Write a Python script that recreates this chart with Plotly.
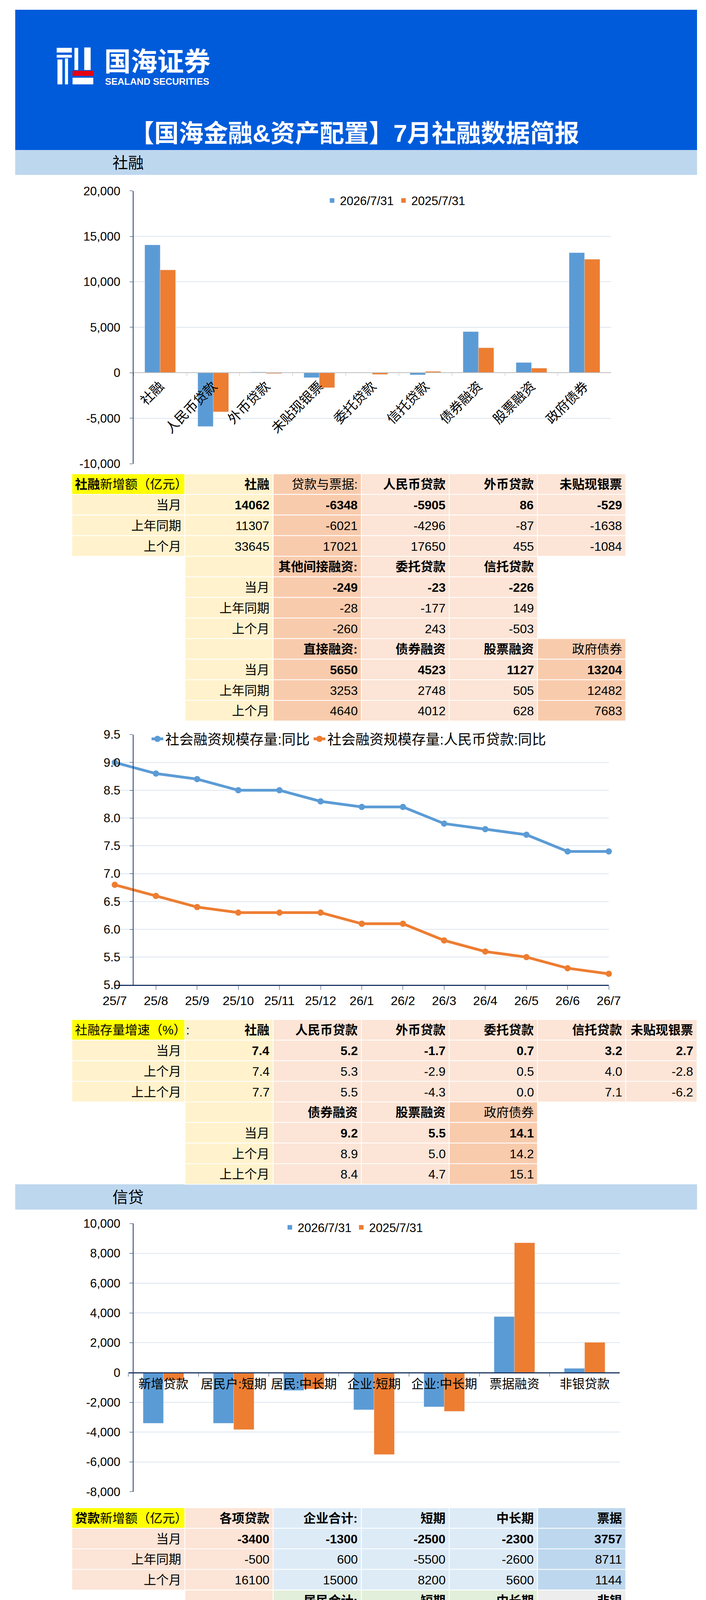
import plotly.graph_objects as go

W, H = 1808, 6968
FONT = "Liberation Sans, Noto Sans CJK SC, sans-serif"

BLUE = '#5B9BD5'
ORANGE = '#ED7D31'
GRAY = '#A5A5A5'
NAVY = '#1F3864'
GRID = '#DCE6F1'

YEL = '#FFFF00'
CREAM = '#FFF2CC'
PEACH = '#FCE4D6'
PEACH2 = '#F8CBAD'
LB = '#DDEBF7'
BL = '#BDD7EE'
GRN = '#E2EFDA'
GRY = '#EDEDED'
WHITE = '#FFFFFF'

# ---------------- data ----------------
sf_cats = ['社融', '人民币贷款', '外币贷款', '未贴现银票', '委托贷款', '信托贷款', '债券融资', '股票融资', '政府债券']
sf_now = [14062, -5905, 86, -529, -23, -226, 4523, 1127, 13204]
sf_last = [11307, -4296, -87, -1638, -177, 149, 2748, 505, 12482]

months = ['25/7', '25/8', '25/9', '25/10', '25/11', '25/12', '26/1', '26/2', '26/3', '26/4', '26/5', '26/6', '26/7']
tsf_yoy = [9.0, 8.8, 8.7, 8.5, 8.5, 8.3, 8.2, 8.2, 7.9, 7.8, 7.7, 7.4, 7.4]
tsf_rmb_yoy = [6.8, 6.6, 6.4, 6.3, 6.3, 6.3, 6.1, 6.1, 5.8, 5.6, 5.5, 5.3, 5.2]

loan_cats = ['新增贷款', '居民户:短期', '居民:中长期', '企业:短期', '企业:中长期', '票据融资', '非银贷款']
loan_now = [-3400, -3400, -1202, -2500, -2300, 3757, 279]
loan_last = [-500, -3827, -1100, -5500, -2600, 8711, 2026]

m1_yoy = [5.6, 6.0, 7.2, 6.2, 4.9, 3.8, 4.9, 5.9, 5.1, 5.0, 5.5, 4.0, 4.0]
m2_yoy = [8.8, 8.8, 8.4, 8.2, 8.0, 8.5, 9.0, 9.0, 8.5, 8.6, 8.6, 8.0, 7.7]

dep_total = [8.7, 8.6, 8.0, 8.0, 7.7, 8.7, 9.9, 8.7, 8.6, 8.9, 8.7, 8.2, 8.1]
dep_house = [10.3, 9.8, 10.2, 9.7, 9.55, 9.7, 7.2, 8.75, 8.2, 7.9, 7.52, 7.07, 7.42]
dep_corp = [4.15, 4.05, 4.2, 3.8, 3.65, 2.8, 6.4, 4.15, 3.9, 4.05, 4.4, 4.5, 4.37]

# table texts
rows3 = ['当月', '上年同期', '上个月']
rows3b = ['当月', '上个月', '上上个月']

t1a_head = ['<b>社融</b>新增额（亿元）', '社融', '贷款与票据:', '人民币贷款', '外币贷款', '未贴现银票']
t1a_vals = [['14062', '-6348', '-5905', '86', '-529'],
            ['11307', '-6021', '-4296', '-87', '-1638'],
            ['33645', '17021', '17650', '455', '-1084']]
t1b_head = ['', '其他间接融资:', '委托贷款', '信托贷款']
t1b_vals = [['-249', '-23', '-226'], ['-28', '-177', '149'], ['-260', '243', '-503']]
t1c_head = ['', '直接融资:', '债券融资', '股票融资', '政府债券']
t1c_vals = [['5650', '4523', '1127', '13204'], ['3253', '2748', '505', '12482'], ['4640', '4012', '628', '7683']]

t2a_head = ['社融存量增速（%）:', '社融', '人民币贷款', '外币贷款', '委托贷款', '信托贷款', '未贴现银票']
t2a_vals = [['7.4', '5.2', '-1.7', '0.7', '3.2', '2.7'],
            ['7.4', '5.3', '-2.9', '0.5', '4.0', '-2.8'],
            ['7.7', '5.5', '-4.3', '0.0', '7.1', '-6.2']]
t2b_head = ['', '债券融资', '股票融资', '政府债券']
t2b_vals = [['9.2', '5.5', '14.1'], ['8.9', '5.0', '14.2'], ['8.4', '4.7', '15.1']]

t3a_head = ['<b>贷款</b>新增额（亿元）', '各项贷款', '企业合计:', '短期', '中长期', '票据']
t3a_vals = [['-3400', '-1300', '-2500', '-2300', '3757'],
            ['-500', '600', '-5500', '-2600', '8711'],
            ['16100', '15000', '8200', '5600', '1144']]
t3b_head = ['', '居民合计:', '短期', '中长期', '非银']
t3b_vals = [['-4603', '-3400', '-1202', '279'], ['-4893', '-3827', '-1100', '2026'], ['2646', '1061', '1584', '-1426']]
t3c_head = ['<b>存量增速(%):</b>', '各项贷款', '企业合计:', '短期', '中长期', '票据']
t3c_vals = [['5.10', '8.19', '11.69', '6.22', '13.04'],
            ['6.90', '8.29', '10.93', '6.19', '17.19'],
            ['5.20', '8.52', '11.93', '6.63', '13.24']]
t3d_head = ['', '居民合计:', '短期', '中长期', '非银']
t3d_vals = [['-1.28', '-6.62', '0.50', '-57.08'], ['-1.30', '-6.70', '0.52', '-51.68'], ['-0.91', '-6.04', '0.81', '-43.91']]

t4a_head = ['<b>M10\\M1\\M2</b>（亿元）', 'M0', 'M1', 'M2']
t4a_vals = [['835', '-30176', '-12008']]
t4b_head = ['<b>存量增速(%):</b>', 'M0', 'M1', 'M2']
t4b_vals = [['11.6', '4.0', '7.7'], ['11.8', '4.0', '8.0'], ['11.9', '5.5', '8.6']]

t5a_head = ['<b>存款</b>新增额（亿元）', '各项存款', '企业', '居民', '财政', '非银']
t5a_vals = [['300', '-16300', '-6300', '9785', '11100'],
            ['5000', '-14591', '-11100', '7700', '21400'],
            ['19900', '19400', '19500', '-9385', '-9900']]
t5b_head = ['<b>存量增速(%):</b>', '各项存款', '企业', '居民', '财政', '非银']
t5b_vals = [['8.1', '4.37', '7.42', '8.19', '23.61'],
            ['8.2', '4.50', '7.07', '6.04', '28.62'],
            ['8.7', '4.40', '7.52', '6.96', '29.65']]


def px(x):
    return x / W


def py(y):
    return 1 - y / H


shapes = []
annots = []


def rect(x0, y0, x1, y1, fill, line=None):
    shapes.append(dict(type='rect', xref='paper', yref='paper', x0=px(x0), x1=px(x1),
                       y0=py(y1), y1=py(y0), fillcolor=fill, layer='below',
                       line=line or dict(width=0)))


def text(x, y, s, size=32, color='black', anchor='left', bold=False):
    annots.append(dict(x=px(x), y=py(y), xref='paper', yref='paper', showarrow=False,
                       text=f'<b>{s}</b>' if bold else s, xanchor=anchor, yanchor='middle',
                       font=dict(size=size, color=color, family=FONT)))


COLS = [150, 450, 684, 918, 1151, 1385, 1619, 1808]
ROW = 53


def cell(ci, y0, s, fill, bold=False, align='right'):
    x0, x1 = COLS[ci], COLS[ci + 1]
    rect(x0, y0, x1, y0 + ROW, fill, dict(color='white', width=2))
    if s:
        if align == 'right':
            text(x1 - 8, y0 + ROW / 2 + 1, s, anchor='right', bold=bold)
        else:
            text(x0 + 6, y0 + ROW / 2 + 1, s, anchor='left', bold=bold)


def block(top, c0, head, head_fill, head_bold, labels, vals, fills, lab_fill, lab_align='right'):
    for j, s in enumerate(head):
        cell(c0 + j, top, s, head_fill[j], head_bold[j], 'left' if head_fill[j] == YEL else 'right')
    for i, lab in enumerate(labels):
        y = top + (i + 1) * ROW
        cell(c0, y, lab, lab_fill, False, lab_align)
        for j, v in enumerate(vals[i]):
            cell(c0 + 1 + j, y, v, fills[j], i == 0)


# ---------------- header ----------------
rect(0, 0, W, 361, '#005BDB')
for (a, b, c, d, col) in [(110, 98, 150, 110, WHITE), (110, 116, 150, 123, WHITE),
                          (112, 128, 125, 192, WHITE), (132, 125, 140, 192, WHITE),
                          (157, 98, 167, 155, WHITE), (183, 97, 200, 155, WHITE),
                          (152, 157, 207, 170, '#E60012'), (152, 175, 207, 192, WHITE)]:
    rect(a, b, c, d, col)
text(234, 134, '国海证券', size=68, color='white', bold=True)
text(236, 184, 'SEALAND SECURITIES', size=24, color='white', bold=True)
text(900, 318, '【国海金融&资产配置】7月社融数据简报', size=63, color='white', anchor='center', bold=True)

# section bands
rect(0, 361, W, 425, BL)
text(256, 394, '社融', size=40)
rect(0, 3022, W, 3087, BL)
text(256, 3055, '信贷', size=40)
rect(0, 4702, W, 4766, BL)
text(165, 4735, 'M1、M2、存款', size=40)

# ---------------- tables ----------------
block(1194, 0, t1a_head, [YEL, CREAM, PEACH2, PEACH, PEACH, PEACH], [False, True, False, True, True, True],
      rows3, t1a_vals, [CREAM, PEACH2, PEACH, PEACH, PEACH], CREAM)
block(1194 + 4 * ROW, 1, t1b_head, [CREAM, PEACH2, PEACH, PEACH], [False, True, True, True],
      rows3, t1b_vals, [PEACH2, PEACH, PEACH], CREAM)
block(1194 + 8 * ROW, 1, t1c_head, [CREAM, PEACH2, PEACH, PEACH, PEACH2], [False, True, True, True, False],
      rows3, t1c_vals, [PEACH2, PEACH, PEACH, PEACH2], CREAM)

block(2598, 0, t2a_head, [YEL, CREAM, PEACH, PEACH, PEACH, PEACH, PEACH], [False] + [True] * 6,
      rows3b, t2a_vals, [CREAM, PEACH, PEACH, PEACH, PEACH, PEACH], CREAM)
block(2598 + 4 * ROW, 1, t2b_head, [CREAM, PEACH, PEACH, PEACH2], [False, True, True, False],
      rows3b, t2b_vals, [PEACH, PEACH, PEACH2], CREAM)

block(3854, 0, t3a_head, [YEL, PEACH, LB, LB, LB, BL], [False] + [True] * 5,
      rows3, t3a_vals, [PEACH, LB, LB, LB, BL], PEACH)
block(3854 + 4 * ROW, 1, t3b_head, [PEACH, GRN, GRN, GRN, GRY], [False] + [True] * 4,
      rows3, t3b_vals, [GRN, GRN, GRN, GRY], PEACH)
block(3854 + 8 * ROW, 0, t3c_head, [YEL, PEACH, LB, LB, LB, BL], [False] + [True] * 5,
      rows3, t3c_vals, [PEACH, LB, LB, LB, BL], PEACH)
block(3854 + 12 * ROW, 1, t3d_head, [PEACH, GRN, GRN, GRN, GRY], [False] + [True] * 4,
      rows3b, t3d_vals, [GRN, GRN, GRN, GRY], PEACH)

block(5402, 0, t4a_head, [YEL, LB, BL, LB], [False, True, True, True],
      ['当月新增额'], t4a_vals, [LB, BL, LB], WHITE, 'left')
block(5402 + 2 * ROW, 0, t4b_head, [YEL, LB, BL, LB], [False, True, True, True],
      rows3b, t4b_vals, [LB, BL, LB], LB)

block(6488, 0, t5a_head, [YEL, LB, BL, LB, BL, LB], [False] + [True] * 5,
      rows3, t5a_vals, [LB, BL, LB, BL, LB], LB)
block(6488 + 4 * ROW, 0, t5b_head, [YEL, LB, BL, LB, BL, LB], [False] + [True] * 5,
      rows3b, t5b_vals, [LB, BL, LB, BL, LB], LB)

text(1157, 6940, '单位：亿元 来源：WIND', size=32)
text(1420, 6922, '@无冕犇腾777', size=44, color='rgba(140,140,140,0.45)')

# ---------------- charts ----------------
fig = go.Figure()

fig.add_trace(go.Bar(x=sf_cats, y=sf_now, name='2026/7/31', marker_color=BLUE,
                     xaxis='x', yaxis='y', legend='legend'))
fig.add_trace(go.Bar(x=sf_cats, y=sf_last, name='2025/7/31', marker_color=ORANGE,
                     xaxis='x', yaxis='y', legend='legend'))


def line(x, y, name, color, xa, ya, lg):
    return go.Scatter(x=x, y=y, name=name, mode='lines+markers',
                      line=dict(color=color, width=7), marker=dict(size=16), cliponaxis=False,
                      xaxis=xa, yaxis=ya, legend=lg)


fig.add_trace(line(months, tsf_yoy, '社会融资规模存量:同比', BLUE, 'x2', 'y2', 'legend2'))
fig.add_trace(line(months, tsf_rmb_yoy, '社会融资规模存量:人民币贷款:同比', ORANGE, 'x2', 'y2', 'legend2'))

fig.add_trace(go.Bar(x=loan_cats, y=loan_now, name='2026/7/31', marker_color=BLUE,
                     xaxis='x3', yaxis='y3', legend='legend3'))
fig.add_trace(go.Bar(x=loan_cats, y=loan_last, name='2025/7/31', marker_color=ORANGE,
                     xaxis='x3', yaxis='y3', legend='legend3'))

fig.add_trace(line(months, m1_yoy, 'M1:同比', BLUE, 'x4', 'y4', 'legend4'))
fig.add_trace(line(months, m2_yoy, 'M2:同比', ORANGE, 'x4', 'y4', 'legend4'))

fig.add_trace(line(months, dep_total, '金融机构:各项存款余额:同比', BLUE, 'x5', 'y5', 'legend5'))
fig.add_trace(line(months, dep_house, '居民存款', ORANGE, 'x5', 'y5', 'legend5'))
fig.add_trace(line(months, dep_corp, '企业存款', GRAY, 'x5', 'y5', 'legend5'))


def ydom(top, bottom):
    return [py(bottom), py(top)]


def zero_pos(top, bottom, rng):
    d0, d1 = py(bottom), py(top)
    return d0 + (d1 - d0) * (0 - rng[0]) / (rng[1] - rng[0])


def yax(top, bottom, rng, ticks=None, dtick=None, fmt=None):
    d = dict(domain=ydom(top, bottom), range=rng, showgrid=True, gridcolor=GRID, gridwidth=2,
             zeroline=False, showline=True, linecolor=NAVY, linewidth=1.5, ticks='outside',
             ticklen=8, tickcolor=NAVY, tickfont=dict(size=31), ticklabelstandoff=18)
    if ticks is not None:
        d.update(tickmode='array', tickvals=ticks, ticktext=[f'{v:,}' for v in ticks])
    else:
        d.update(dtick=dtick, tickformat=fmt)
    return d


def xcat(left, right, anchor, **kw):
    d = dict(domain=[px(left), px(right)], anchor=anchor, type='category', ticks='outside',
             ticklen=10, tickcolor=NAVY, showline=True, linecolor=NAVY, linewidth=3,
             showgrid=False, tickfont=dict(size=32))
    d.update(kw)
    return d


def leg(x, y, size=31):
    return dict(x=px(x), y=py(y), xanchor='center', yanchor='middle', orientation='h',
                font=dict(size=size, family=FONT), bgcolor='rgba(0,0,0,0)', traceorder='normal')


r1 = [-10000, 20000]
r3 = [-8000, 10000]

fig.update_layout(
    width=W, height=H, margin=dict(l=0, r=0, t=0, b=0),
    paper_bgcolor='white', plot_bgcolor='white',
    font=dict(family=FONT, size=31, color='black'),
    barmode='group', bargap=0.42, bargroupgap=0,
    shapes=shapes, annotations=annots,
    xaxis=xcat(314, 1580, 'free', position=zero_pos(466, 1168, r1), tickangle=-45,
               tickson='boundaries', ticklen=8, tickcolor='#BFBFBF', linecolor='#BFBFBF',
               linewidth=2, tickfont=dict(size=34)),
    yaxis=yax(466, 1168, r1, ticks=[-10000, -5000, 0, 5000, 10000, 15000, 20000]),
    xaxis2=xcat(264, 1574, 'y2', range=[0, 12]),
    yaxis2=yax(1865, 2509, [5, 9.5], dtick=0.5, fmt='.1f'),
    xaxis3=xcat(300, 1603, 'free', position=zero_pos(3123, 3813, r3), tickangle=0,
                tickson='boundaries', ticklen=8),
    yaxis3=yax(3123, 3813, r3, ticks=[-8000, -6000, -4000, -2000, 0, 2000, 4000, 6000, 8000, 10000]),
    xaxis4=xcat(273, 1603, 'y4', range=[-0.5, 12.5], tickson='boundaries'),
    yaxis4=yax(4796, 5334, [0, 10], dtick=1, fmt='.2f'),
    xaxis5=xcat(282, 1589, 'y5', range=[-0.5, 12.5], tickson='boundaries'),
    yaxis5=yax(5751, 6409, [0, 12], dtick=2, fmt='.2f'),
    legend=leg(1009, 491),
    legend2=leg(885, 1876, 36),
    legend3=leg(897, 3133),
    legend4=leg(893, 4812, 32),
    legend5=leg(885, 5763, 33),
)

fig.write_html("out.html")
